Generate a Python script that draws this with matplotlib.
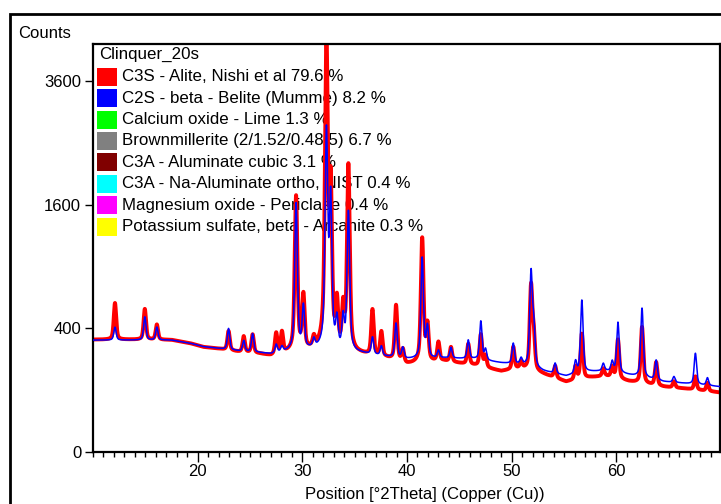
import numpy as np
import matplotlib
matplotlib.use("Agg")
import matplotlib.pyplot as plt
from matplotlib.patches import Rectangle
from matplotlib.ticker import FixedLocator, MultipleLocator

plt.rcParams['font.family'] = ['Liberation Sans', 'DejaVu Sans']

W, H = 721, 504

# Background levels (counts) at anchor angles
bg_angles = [10, 13.5, 17.5, 19.2, 20.5, 22.0, 24.0, 26.0, 27.0, 28.5, 31.0, 35.5,
             38.0, 40.0, 43.5, 46.5, 49.0, 50.9, 53.0, 55.2, 57.5, 59.0, 61.2, 64.5, 66.5, 70.0]
bg_calc = [327, 327, 327, 310, 290, 280, 265, 256, 250, 262, 275, 255,
           237, 225, 230, 225, 207, 198, 170, 150, 168, 172, 155, 129, 123, 111]
bg_obs = [330, 330, 328, 310, 288, 278, 260, 250, 240, 255, 270, 250,
          230, 200, 215, 195, 170, 182, 158, 128, 145, 150, 130, 111, 105, 92]

# Reflections: position (deg 2theta), net intensity of calculated and observed profiles
peak_pos = [12.1, 14.95, 16.1, 22.95, 24.4, 25.25, 27.5, 28.05, 29.4, 30.1, 31.1,
            32.3, 32.7, 33.3, 33.9, 34.4, 36.7, 37.55, 38.95, 39.6, 41.45, 41.95,
            43.0, 44.2, 45.85, 47.05, 47.5, 50.15, 50.9, 51.85, 52.1, 54.15, 56.1,
            56.7, 58.75, 59.6, 60.15, 62.45, 63.8, 65.5, 67.55, 68.7]
calc_int = [80, 150, 80, 125, 60, 105, 45, 28, 1350, 280, 45,
            2450, 1450, 180, 200, 1250, 95, 50, 200, 55, 760, 180,
            38, 55, 100, 225, 55, 105, 28, 660, 230, 45, 55,
            440, 32, 45, 275, 395, 85, 22, 135, 28]
obs_int = [250, 205, 95, 112, 90, 105, 120, 120, 1450, 370, 55,
           4300, 1650, 310, 280, 1900, 285, 140, 345, 65, 990, 210,
           100, 75, 105, 170, 55, 110, 28, 550, 185, 50, 55,
           225, 32, 45, 190, 285, 95, 22, 48, 28]

x_ticks = [20, 30, 40, 50, 60]
y_ticks = [0, 400, 1600, 3600]


def profile(x, bg_y, heights, fwhm=0.26, eta=0.5):
    y = np.interp(x, bg_angles, bg_y).astype(float)
    hw = fwhm / 2.0
    for p, h in zip(peak_pos, heights):
        d = x - p
        lor = 1.0 / (1.0 + (d / hw) ** 2)
        gau = np.exp(-np.log(2) * (d / hw) ** 2)
        y += h * (eta * lor + (1 - eta) * gau)
    return y


x = np.arange(10.0, 70.0, 0.01)
y_calc = profile(x, bg_calc, calc_int)
y_obs = profile(x, bg_obs, obs_int)

fig = plt.figure(figsize=(W / 100, H / 100), dpi=100)


def fx(px):
    return px / W


def fy(py):
    return 1 - py / H


# outer frame of the panel
fig.add_artist(Rectangle((fx(10), fy(520)), fx(730) - fx(10), fy(14) - fy(520),
                         transform=fig.transFigure, fill=False, lw=2, ec='black'))

ax = fig.add_axes([fx(93), fy(452), fx(720) - fx(93), fy(44) - fy(452)])
ax.set_yscale('function', functions=(lambda v: np.sqrt(np.clip(v, 0, None)),
                                     lambda v: v ** 2))
ax.plot(x, y_obs, color='#ff0000', lw=2.8, zorder=2)
ax.plot(x, y_calc, color='#0000ff', lw=1.1, zorder=3)
ax.set_xlim(10, 69.9)
ax.set_ylim(0, 4350)

ax.xaxis.set_major_locator(FixedLocator(x_ticks))
ax.xaxis.set_minor_locator(MultipleLocator(1))
ax.yaxis.set_major_locator(FixedLocator(y_ticks))
ax.yaxis.set_minor_locator(FixedLocator([]))
ax.set_xticklabels([str(t) for t in x_ticks])
ax.set_yticklabels([str(t) for t in y_ticks])
ax.tick_params(axis='x', which='major', direction='out', length=7, width=1,
               labelsize=12, pad=2)
ax.tick_params(axis='x', which='minor', direction='out', length=3.6, width=1)
ax.tick_params(axis='y', which='major', direction='out', length=5.5, width=1,
               labelsize=12, pad=3)
for s in ax.spines.values():
    s.set_linewidth(1.6)

fig.text(fx(18), fy(33), 'Counts', fontsize=12, ha='left', va='center')
fig.text(fx(425), fy(495), 'Position [°2Theta] (Copper (Cu))', fontsize=12,
         ha='center', va='center')

# phase legend
legend_title = 'Clinquer_20s'
phase_names = ['C3S - Alite, Nishi et al 79.6 %',
               'C2S - beta - Belite (Mumme) 8.2 %',
               'Calcium oxide - Lime 1.3 %',
               'Brownmillerite (2/1.52/0.48/5) 6.7 %',
               'C3A - Aluminate cubic 3.1 %',
               'C3A - Na-Aluminate ortho, NIST 0.4 %',
               'Magnesium oxide - Periclase 0.4 %',
               'Potassium sulfate, beta - Arcanite 0.3 %']
phase_colors = ['#ff0000', '#0000ff', '#00ff00', '#808080',
                '#800000', '#00ffff', '#ff00ff', '#ffff00']

ax.text(fx(99), fy(54.5), legend_title, transform=fig.transFigure, fontsize=12.2,
        ha='left', va='center', zorder=1)
for i, (name, col) in enumerate(zip(phase_names, phase_colors)):
    yc = 76.7 + 21.43 * i
    ax.add_patch(Rectangle((fx(97), fy(yc + 9)), fx(117) - fx(97), fy(yc - 9) - fy(yc + 9),
                           transform=fig.transFigure, facecolor=col, edgecolor='none',
                           zorder=1, clip_on=False))
    ax.text(fx(122), fy(yc), name, transform=fig.transFigure, fontsize=12.2,
            ha='left', va='center', zorder=1)

fig.savefig('out.png', dpi=100)
